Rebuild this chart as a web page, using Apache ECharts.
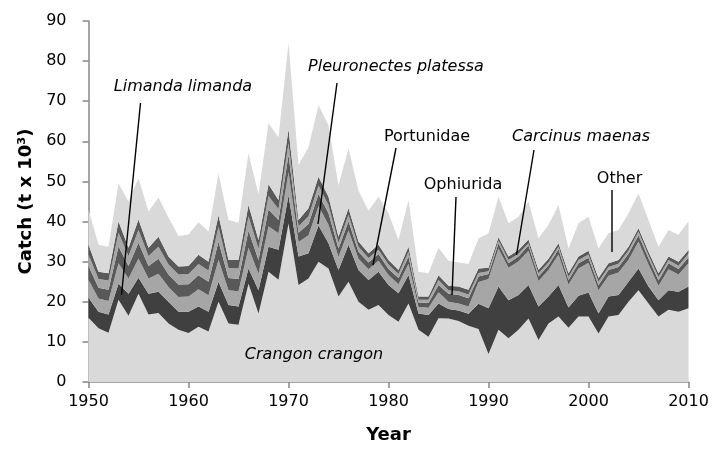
<!DOCTYPE html>
<html>
<head>
<meta charset="utf-8">
<script src="https://cdn.jsdelivr.net/npm/echarts@6/dist/echarts.min.js"></script>
<style>
  html, body { margin: 0; padding: 0; background: #ffffff; }
  #chart { width: 723px; height: 450px; }
</style>
</head>
<body>
<div id="chart"></div>
<script>
// years on the x axis
const years = [
  1950, 1951, 1952, 1953, 1954, 1955, 1956, 1957, 1958, 1959,
  1960, 1961, 1962, 1963, 1964, 1965, 1966, 1967, 1968, 1969,
  1970, 1971, 1972, 1973, 1974, 1975, 1976, 1977, 1978, 1979,
  1980, 1981, 1982, 1983, 1984, 1985, 1986, 1987, 1988, 1989,
  1990, 1991, 1992, 1993, 1994, 1995, 1996, 1997, 1998, 1999,
  2000, 2001, 2002, 2003, 2004, 2005, 2006, 2007, 2008, 2009, 2010
];

// catch per group (t x 10^3), stacked from bottom to top
const crangon = [
  16, 13.4, 12.3, 20.5, 16.5, 22, 16.8, 17.2, 14.6, 13,
  12.2, 13.8, 12.6, 20, 14.6, 14.3, 24.5, 17.1, 27.5, 25.5,
  39.5, 24.2, 25.8, 30, 28.3, 21.3, 25, 20, 18, 19.2,
  16.7, 15, 19.6, 13, 11.3, 15.9, 15.8, 15.2, 14, 13.2,
  7, 13, 10.9, 13, 15.8, 10.5, 14.6, 16.3, 13.5, 16.3,
  16.3, 12.1, 16.3, 16.7, 20, 22.9, 19.6, 16.3, 18, 17.5, 18.4
];
const limanda = [
  5, 4.1, 4.5, 4, 5.5, 4, 5.2, 5.3, 5.4, 4.5,
  5.3, 5, 4.9, 5, 4.6, 4.5, 3.8, 5.8, 6.2, 7.5,
  7, 7.1, 6.3, 9, 6.3, 6.6, 9.2, 7.9, 7.4, 8.3,
  7.5, 7.1, 7.1, 4.1, 5.4, 3.7, 2.4, 2.6, 3, 6.3,
  11.4, 10.8, 9.5, 8.7, 8.4, 8.3, 6.7, 7.9, 5.1, 5.2,
  6, 5, 5, 5, 5, 5.4, 4.2, 4.1, 4.9, 5, 5.4
];
const pleuronectes = [
  4.5, 3.3, 3.4, 5.1, 3.8, 4.8, 3.8, 4.5, 3.7, 3.7,
  3.8, 4.3, 4.1, 5.5, 3.7, 3.8, 5.2, 4.1, 5.1, 4.1,
  5.8, 3.6, 4.5, 4.9, 4.6, 3.3, 3.6, 2.8, 2.7, 2.7,
  2.5, 2.3, 2.8, 1.6, 1.8, 2.8, 1.8, 1.8, 1.8, 5.4,
  7.3, 9.5, 8.1, 8.4, 8.5, 6.4, 6.6, 7.6, 5.7, 6.8,
  7.4, 5.8, 5.2, 5.6, 5.5, 6.7, 5.5, 3.6, 5.2, 4.3, 5.8
];
const portunidae = [
  3.4, 2.7, 2.8, 4.2, 3.1, 3.9, 3.1, 3.7, 3.1, 3.1,
  3.1, 3.5, 3.4, 4.5, 3, 3.1, 4.3, 3.4, 4.2, 3.3,
  4.3, 2.3, 2.8, 3, 2.9, 2.1, 2.3, 1.8, 1.7, 1.7,
  1.5, 1.5, 1.8, 1.1, 1.2, 1.8, 2, 2.1, 2.1, 1.4,
  1.2, 1.3, 1.1, 1.2, 1.3, 1.1, 1.2, 1.3, 1.1, 1.3,
  1.3, 1.2, 1.4, 1.4, 1.5, 1.6, 1.5, 1.3, 1.5, 1.4, 1.5
];
const ophiurida = [
  2.9, 2.2, 2.3, 3.4, 2.5, 3.2, 2.5, 3, 2.5, 2.5,
  2.5, 2.8, 2.8, 3.7, 2.5, 2.6, 3.5, 2.8, 3.4, 2.7,
  3, 1.6, 1.9, 2.1, 2, 1.4, 1.6, 1.2, 1.1, 1.1,
  1.1, 1, 1.2, 0.7, 0.8, 1.2, 0.9, 0.9, 0.9, 0.9,
  0.7, 0.7, 0.8, 0.7, 0.6, 0.8, 0.7, 0.6, 0.8, 0.8,
  0.8, 0.9, 0.8, 0.8, 0.8, 0.9, 0.8, 0.9, 0.8, 0.8, 0.9
];
const carcinus = [
  2.4, 1.8, 1.8, 2.8, 2.1, 2.6, 2.1, 2.5, 2, 2,
  2, 2.3, 2.2, 2.9, 2, 2.1, 2.8, 2.2, 2.9, 2.3,
  3.4, 1.6, 2, 2.2, 2.1, 1.5, 1.6, 1.3, 1.2, 1.2,
  1.1, 1, 1.2, 0.8, 0.8, 1.2, 1.1, 1.2, 1.2, 1.1,
  0.9, 0.8, 0.9, 0.9, 0.9, 0.9, 0.9, 0.9, 0.9, 0.9,
  0.9, 0.9, 0.9, 0.9, 0.9, 0.8, 0.9, 0.9, 0.9, 1, 0.9
];
const other = [
  8.8, 6.7, 6.6, 9.5, 11.5, 10.3, 9, 9.8, 9.7, 7.6,
  7.9, 8.1, 7.5, 10.4, 10, 9.3, 12.9, 11.4, 15.2, 15.6,
  21.5, 13.7, 15.2, 17.8, 17.8, 12.8, 15, 12.7, 10.6, 12,
  11.7, 7.5, 11.7, 6.2, 5.8, 6.9, 6.2, 6, 6.4, 7.5,
  8.6, 10.1, 8.3, 8.3, 9.5, 7.8, 8.5, 9.5, 6.2, 8.3,
  8.5, 7.4, 7.5, 7.5, 8.4, 8.7, 7.9, 6.6, 6.6, 6.7, 7.1
];

const FONT = '"DejaVu Sans", Verdana, sans-serif';
const axisGray = '#868686';

function layer(name, data, color) {
  return {
    name: name,
    type: 'line',
    stack: 'catch',
    data: data,
    symbol: 'none',
    lineStyle: { width: 0 },
    areaStyle: { color: color, opacity: 1 },
    silent: true
  };
}

// labels with leader lines (pixel positions), drawn above the areas
function note(text, x, y, italic) {
  return {
    type: 'text',
    z: 100,
    x: x, y: y,
    style: {
      text: text,
      fill: '#000',
      font: (italic ? 'italic ' : '') + '16px ' + FONT,
      align: 'center',
      verticalAlign: 'middle'
    }
  };
}
function leader(x1, y1, x2, y2) {
  return {
    type: 'line',
    z: 100,
    shape: { x1: x1, y1: y1, x2: x2, y2: y2 },
    style: { stroke: '#000', lineWidth: 1.4 }
  };
}

const option = {
  animation: false,
  backgroundColor: '#ffffff',
  grid: { left: 88.5, right: 34.5, top: 21, bottom: 68 },
  xAxis: {
    type: 'category',
    data: years,
    boundaryGap: false,
    name: 'Year',
    nameLocation: 'middle',
    nameGap: 44,
    nameTextStyle: { fontFamily: FONT, fontSize: 18, fontWeight: 'bold', color: '#000' },
    axisLine: { lineStyle: { color: axisGray, width: 1.5 } },
    axisTick: { show: true, interval: 9, length: 6, lineStyle: { color: axisGray, width: 1.5 } },
    axisLabel: { interval: 9, margin: 12, fontFamily: FONT, fontSize: 16, color: '#000' },
    splitLine: { show: false }
  },
  yAxis: {
    type: 'value',
    min: 0,
    max: 90,
    interval: 10,
    name: 'Catch (t x 10³)',
    nameLocation: 'middle',
    nameGap: 50,
    nameRotate: 90,
    nameTextStyle: { fontFamily: FONT, fontSize: 18, fontWeight: 'bold', color: '#000' },
    axisLine: { show: true, lineStyle: { color: axisGray, width: 1.5 } },
    axisTick: { show: true, length: 6, lineStyle: { color: axisGray, width: 1.5 } },
    axisLabel: { margin: 22, fontFamily: FONT, fontSize: 16, color: '#000' },
    splitLine: { show: false }
  },
  series: [
    layer('Crangon crangon', crangon, '#d9d9d9'),
    layer('Limanda limanda', limanda, '#404040'),
    layer('Pleuronectes platessa', pleuronectes, '#a6a6a6'),
    layer('Portunidae', portunidae, '#595959'),
    layer('Ophiurida', ophiurida, '#a6a6a6'),
    layer('Carcinus maenas', carcinus, '#595959'),
    layer('Other', other, '#d9d9d9')
  ],
  graphic: [
    note('Limanda limanda', 183, 87, true),
    leader(140.5, 103, 121.5, 295),
    note('Pleuronectes platessa', 396, 67, true),
    leader(337, 83, 318, 224),
    note('Portunidae', 427, 137, false),
    leader(396, 148, 373, 265),
    note('Ophiurida', 463, 185, false),
    leader(456, 197, 452, 295),
    note('Carcinus maenas', 581, 137, true),
    leader(534, 150, 516.5, 255),
    note('Other', 619.5, 179, false),
    leader(612, 190, 612, 252),
    note('Crangon crangon', 314, 355, true)
  ]
};

const chart = echarts.init(document.getElementById('chart'));
chart.setOption(option);
</script>
</body>
</html>
